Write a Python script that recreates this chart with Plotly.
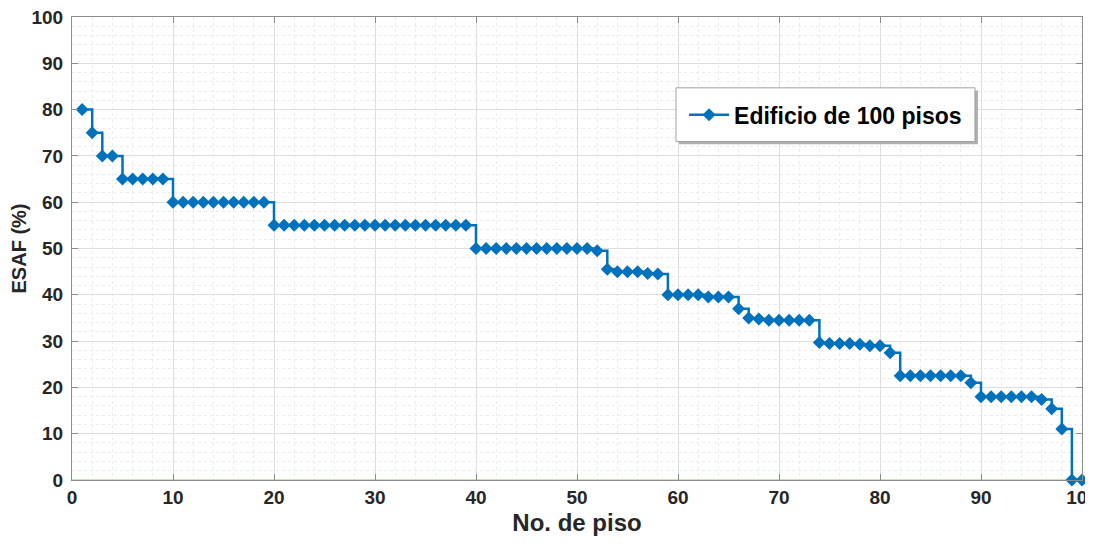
import plotly.graph_objects as go

floors = list(range(1, 101))
esaf = [
    80, 75, 70, 70, 65, 65, 65, 65, 65,                      # 1-9
    60, 60, 60, 60, 60, 60, 60, 60, 60, 60,                  # 10-19
    55, 55, 55, 55, 55, 55, 55, 55, 55, 55,                  # 20-29
    55, 55, 55, 55, 55, 55, 55, 55, 55, 55,                  # 30-39
    50, 50, 50, 50, 50, 50, 50, 50, 50, 50,                  # 40-49
    50, 50, 49.5, 45.5, 45, 45, 45, 44.6, 44.5,              # 50-58
    40, 40, 40, 40, 39.5, 39.5, 39.5, 37, 35, 34.8,          # 59-68
    34.5, 34.5, 34.5, 34.5, 34.5, 29.7, 29.5, 29.5, 29.5,    # 69-77
    29.3, 29, 29, 27.5,                                      # 78-81
    22.5, 22.5, 22.5, 22.5, 22.5, 22.5, 22.5, 21,            # 82-89
    18, 18, 18, 18, 18, 18, 17.4, 15.4, 11, 0, 0,            # 90-100
]
x_ticks = list(range(0, 101, 10))
y_ticks = list(range(0, 101, 10))
ref_x = [0, 100]
ref_y = [0, 0]

blue = '#0072BD'
fig = go.Figure()
fig.add_trace(go.Scatter(
    x=ref_x, y=ref_y, mode='lines', showlegend=False,
    line=dict(color='#b7df93', width=1.5), hoverinfo='skip', cliponaxis=False))
fig.add_trace(go.Scatter(
    x=floors, y=esaf, mode='lines+markers', name='Edificio de 100 pisos',
    line=dict(color=blue, width=2.5, shape='hv'),
    marker=dict(symbol='diamond', size=10, color=blue), cliponaxis=False))

FONT = 'Liberation Sans, Arial'
tickfont = dict(family=FONT, size=19, color='#262626', weight='bold')
axis_common = dict(
    showgrid=True, gridcolor='#dedede', gridwidth=1, automargin=False,
    zeroline=False, showline=True, linecolor='#8c8c8c', linewidth=1,
    mirror='ticks', ticks='inside', ticklen=6, tickcolor='#8c8c8c',
    tickfont=tickfont, ticklabeloverflow='allow',
    minor=dict(dtick=2, showgrid=True, gridcolor='#ececec', griddash='dot', gridwidth=1),
)
fig.update_xaxes(range=[0, 100], tickvals=x_ticks, **axis_common,
                 title=dict(text='No. de piso', standoff=18,
                            font=dict(family=FONT, size=24, color='#262626', weight='bold')))
fig.update_yaxes(range=[0, 100], tickvals=y_ticks, ticklabelstandoff=4, **axis_common,
                 title=dict(text='ESAF (%)', standoff=8,
                            font=dict(family=FONT, size=20, color='#262626', weight='bold')))

# legend frame with shadow (paper coords of plot area)
fig.add_shape(type='rect', xref='paper', yref='paper', x0=0.601, x1=0.897, y0=0.725, y1=0.841,
              fillcolor='#b0b0b0', line=dict(width=0), layer='above')
fig.add_shape(type='rect', xref='paper', yref='paper', x0=0.598, x1=0.894, y0=0.731, y1=0.847,
              fillcolor='white', line=dict(color='#a0a0a0', width=1), layer='above')

fig.update_layout(
    width=1077, height=528,
    margin=dict(l=64, r=3, t=9, b=55.5, autoexpand=False),
    paper_bgcolor='white', plot_bgcolor='white',
    legend=dict(x=0.606, y=0.789, xanchor='left', yanchor='middle',
                bgcolor='rgba(0,0,0,0)', borderwidth=0,
                font=dict(family=FONT, size=23, color='black', weight='bold'),
                itemwidth=40),
    showlegend=True,
)
fig.write_html('out.html')
